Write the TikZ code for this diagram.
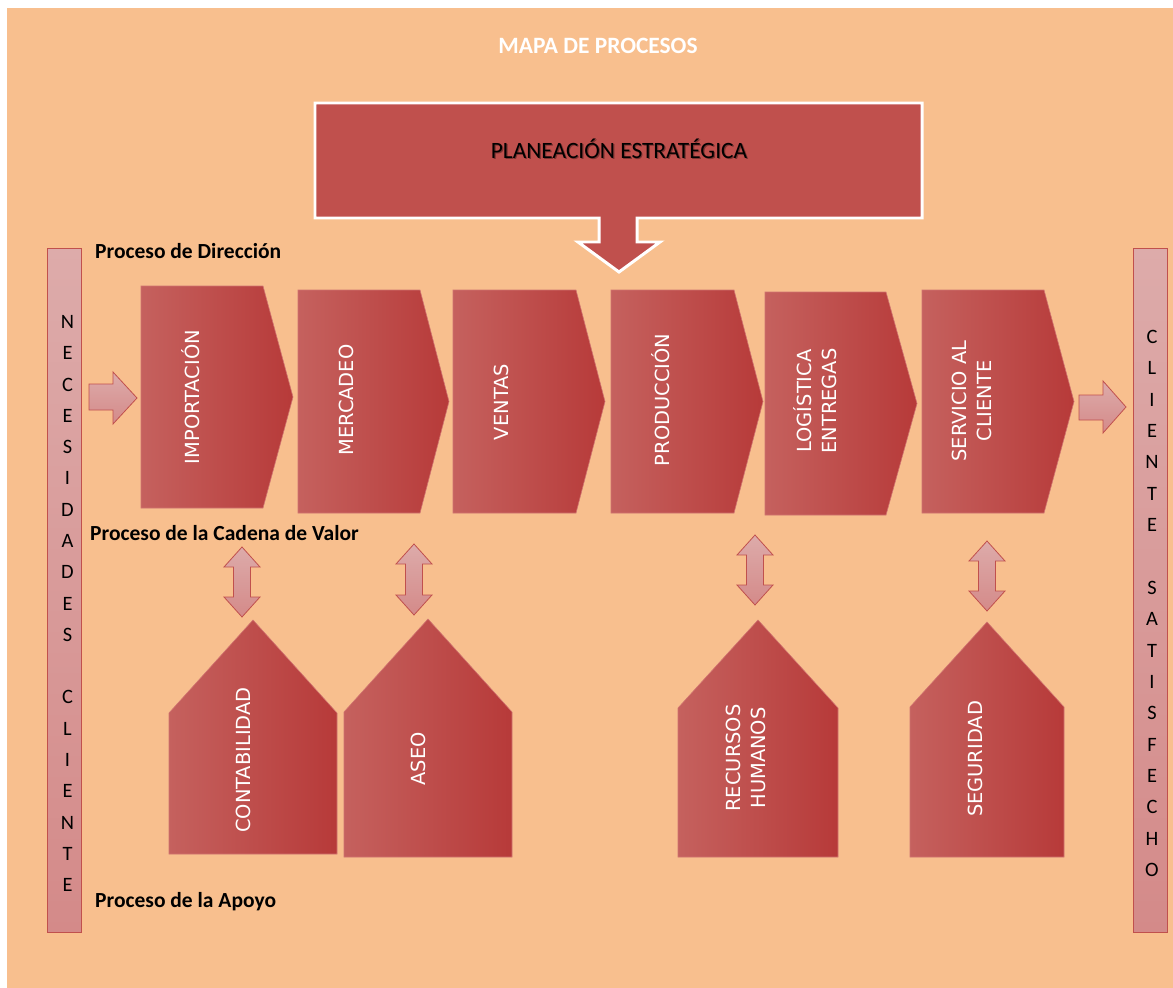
\documentclass[tikz,border=0pt]{standalone}
\usepackage{fontspec}
\setmainfont{Carlito}
\newfontfamily\dvs{DejaVu Sans}
\definecolor{bg}{HTML}{F8BF8E}
\definecolor{planc}{HTML}{C0504D}
\definecolor{chevL}{HTML}{C5615E}
\definecolor{chevM}{HTML}{C34743}
\definecolor{chevR}{HTML}{B73A39}
\definecolor{chevE}{HTML}{D07370}
\definecolor{pinkT}{HTML}{DDABAA}
\definecolor{pinkB}{HTML}{D48A89}
\definecolor{edgec}{HTML}{C0504D}
\tikzset{
  chev/.style={left color=chevL, middle color=chevM, right color=chevR, draw=chevE, line width=0.6pt},
  pinkshape/.style={top color=pinkT, bottom color=pinkB, draw=edgec, line width=0.8pt},
  ptext/.style={rotate=90, text=white, align=center, font=\dvs\fontsize{19.5}{25}\selectfont, inner sep=0pt},
  bartext/.style={font=\fontsize{20.5}{22}\selectfont, text=black, inner sep=0pt},
  lbl/.style={font=\bfseries\fontsize{21.6}{24}\selectfont, text=black, anchor=base west, inner sep=0pt}
}
\newcommand{\Chev}[5]{\path[chev] (#1,#2) -- (#3,#2) -- (#4,{(#2+#5)/2}) -- (#3,#5) -- (#1,#5) -- cycle;}
\newcommand{\Pent}[5]{\path[chev] (#1,#5) -- (#1,#4) -- ({(#1+#2)/2},#3) -- (#2,#4) -- (#2,#5) -- cycle;}
\newcommand{\DblArrow}[3]{\path[pinkshape] (#1,#2) -- ({#1+18},{#2+20}) -- ({#1+8.5},{#2+20}) -- ({#1+8.5},{#3-20}) -- ({#1+18},{#3-20}) -- (#1,#3) -- ({#1-18},{#3-20}) -- ({#1-8.5},{#3-20}) -- ({#1-8.5},{#2+20}) -- ({#1-18},{#2+20}) -- cycle;}
\begin{document}
\begin{tikzpicture}[x=1bp,y=-1bp]
\useasboundingbox (0,0) rectangle (1173,988);
\fill[white] (0,0) rectangle (1173,988);
\fill[bg] (7,8) rectangle (1173,988);

% title
\node[font=\bfseries\fontsize{23.5}{26}\selectfont, text=white, anchor=base, inner sep=0pt] (title) at (598,53) {MAPA DE PROCESOS};

% planeacion
\path[fill=planc, draw=white, line width=3pt, line join=miter]
  (315,103) -- (922,103) -- (922,218) -- (637,218) -- (637,242) -- (660,242) -- (619,272)
  -- (578,242) -- (599,242) -- (599,218) -- (315,218) -- cycle;
\node[font=\fontsize{23.5}{26}\selectfont, text=black, opacity=0.35, anchor=base, inner sep=0pt] at (620.2,159.4) {PLANEACIÓN ESTRATÉGICA};
\node[font=\fontsize{23.5}{26}\selectfont, text=black, anchor=base, inner sep=0pt] (plan) at (619,158) {PLANEACIÓN ESTRATÉGICA};

% side bars
\path[pinkshape] (47,248) rectangle (81,932);
\path[pinkshape] (1133,248) rectangle (1167,932);
\foreach \l [count=\i from 0] in {N,E,C,E,S,I,D,A,D,E,S,{},C,L,I,E,N,T,E}
  \node[bartext] (nl\i) at (67.5,{322+\i*31.28}) {\l};
\foreach \l [count=\i from 0] in {C,L,I,E,N,T,E,{},S,A,T,I,S,F,E,C,H,O}
  \node[bartext] (nr\i) at (1152,{337+\i*31.35}) {\l};

% labels
\node[lbl] (ldir) at (95,258) {Proceso de Dirección};
\node[lbl] (lcad) at (90,540) {Proceso de la Cadena de Valor};
\node[lbl] (lapo) at (95,907) {Proceso de la Apoyo};

% in/out arrows
\path[pinkshape] (89,384) -- (113,384) -- (113,372) -- (137,398) -- (113,424) -- (113,410) -- (89,410) -- cycle;
\path[pinkshape] (1079,395) -- (1103,395) -- (1103,381) -- (1126,407) -- (1103,433) -- (1103,420) -- (1079,420) -- cycle;

% value chain
\Chev{141}{286}{263}{293}{508}
\Chev{298}{290}{420}{449}{513}
\Chev{453}{290}{576}{605}{513}
\Chev{611}{290}{734}{763}{513}
\Chev{765}{292}{886}{917}{515}
\Chev{922}{290}{1044}{1074}{513}
\node[ptext] (imp) at (191,397) {IMPORTACIÓN};
\node[ptext] (mer) at (346,400) {MERCADEO};
\node[ptext] (ven) at (501,402) {VENTAS};
\node[ptext] (pro) at (661,400) {PRODUCCIÓN};
\node[ptext] (log) at (815,401) {LOGÍSTICA\\ENTREGAS};
\node[ptext] (ser) at (972,401) {SERVICIO AL\\CLIENTE};

% double arrows
\DblArrow{242}{547}{617}
\DblArrow{414}{544}{615}
\DblArrow{755}{535}{605}
\DblArrow{987}{541}{611}

% support
\Pent{169}{337}{620}{713}{854}
\Pent{344}{512}{619}{712}{857}
\Pent{678}{838}{620}{708}{857}
\Pent{910}{1064}{622}{707}{857}
\node[ptext] (con) at (243,760) {CONTABILIDAD};
\node[ptext] (ase) at (418,759) {ASEO};
\node[ptext] (rec) at (745.5,758) {RECURSOS\\HUMANOS};
\node[ptext] (seg) at (975,759) {SEGURIDAD};
\end{tikzpicture}
\end{document}
